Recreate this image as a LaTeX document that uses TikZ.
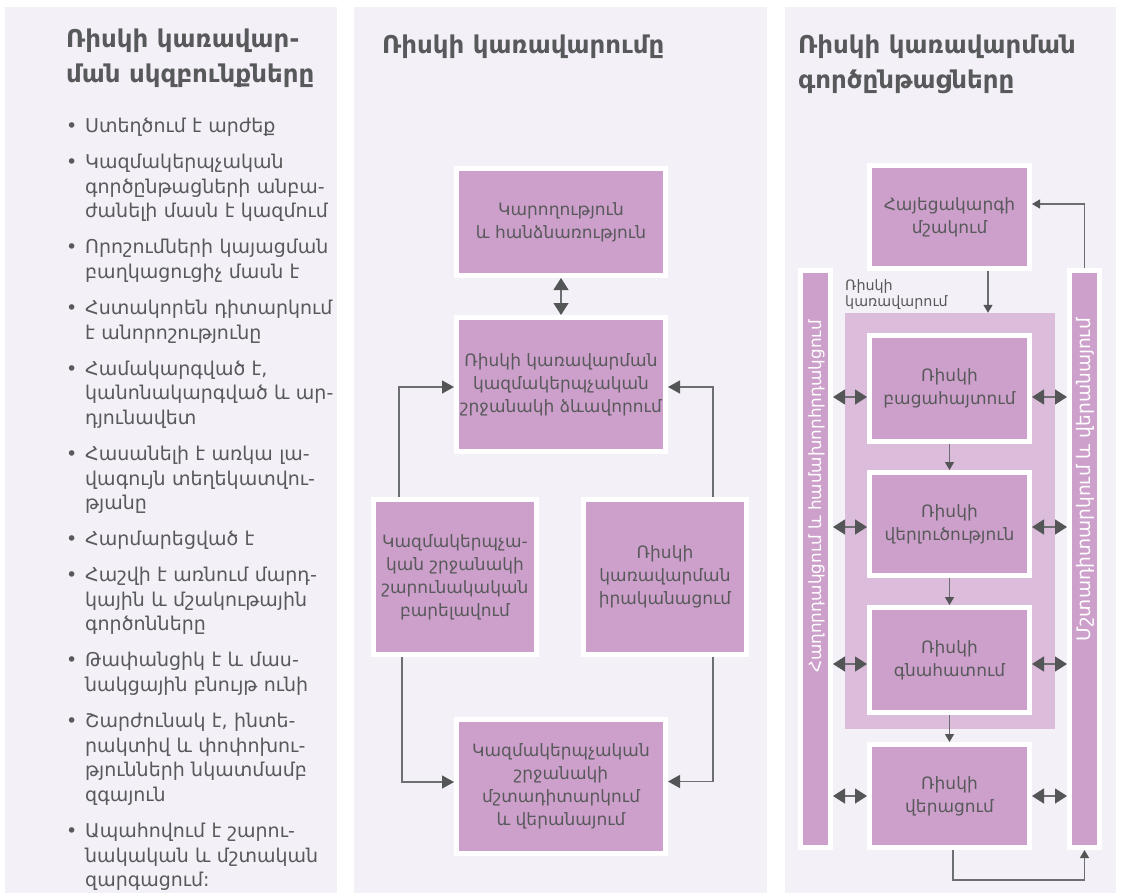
\documentclass[tikz,border=0pt]{standalone}
\usepackage{fontspec}
\setmainfont{DejaVu Sans}
\usetikzlibrary{arrows.meta}
\definecolor{panelc}{HTML}{F3F0F7}
\definecolor{boxc}{HTML}{CDA0CB}
\definecolor{regc}{HTML}{DBBCDB}
\definecolor{txtc}{HTML}{58595B}
\definecolor{linec}{HTML}{6D6E71}
\definecolor{arrc}{HTML}{545557}
\newcommand\bitem{\par\hangindent=19pt\hangafter=1\noindent\makebox[19pt][l]{•}}
\begin{document}
\begin{tikzpicture}[x=1pt,y=-1pt,
  pbox/.style={fill=boxc, draw=white, line width=5pt, inner sep=0pt, text=txtc, align=center, font=\fontsize{17}{23}\selectfont},
  bar/.style={fill=boxc, draw=white, line width=5pt, inner sep=0pt},
  conn/.style={draw=linec, line width=1.3pt},
  arr/.style={conn, -{Triangle[length=12pt,width=13pt,color=arrc]}},
  sarr/.style={conn, -{Triangle[length=8pt,width=9pt,color=arrc]}},
  dbl/.style={conn, {Triangle[length=12pt,width=15pt,color=arrc]}-{Triangle[length=12pt,width=15pt,color=arrc]}},
  title/.style={font=\fontsize{24.5}{34.5}\selectfont\bfseries, text=txtc, align=left, inner sep=0pt},
  bartext/.style={rotate=90, text=white, inner sep=0pt}
]
\useasboundingbox (0,0) rectangle (1121,894);
% panels
\fill[panelc] (5,7) rectangle (337,893);
\fill[panelc] (354,7) rectangle (767,893);
\fill[panelc] (785,7) rectangle (1116,893);

% ---- left panel
\node[title, anchor=north west] (t1) at (66,29) {Ռիսկի կառավար-\\ման սկզբունքները};
\node[anchor=north west, text width=268pt, inner sep=0pt, text=txtc, align=left,
      font=\fontsize{19}{24.7}\selectfont] (lst) at (66,96.5) {%
\setlength\parskip{11.2pt}%
\bitem Ստեղծում է արժեք
\bitem Կազմակերպչական\newline գործընթացների անբա-\newline ժանելի մասն է կազմում
\bitem Որոշումների կայացման\newline բաղկացուցիչ մասն է
\bitem Հստակորեն դիտարկում\newline է անորոշությունը
\bitem Համակարգված է,\newline կանոնակարգված և ար-\newline դյունավետ
\bitem Հասանելի է առկա լա-\newline վագույն տեղեկատվու-\newline թյանը
\bitem Հարմարեցված է
\bitem Հաշվի է առնում մարդ-\newline կային և մշակութային\newline գործոնները
\bitem Թափանցիկ է և մաս-\newline նակցային բնույթ ունի
\bitem Շարժունակ է, ինտե-\newline րակտիվ և փոփոխու-\newline թյունների նկատմամբ\newline զգայուն
\bitem Ապահովում է շարու-\newline նակական և մշտական\newline զարգացում:\par};

% ---- middle panel
\node[title, anchor=north west] (t2) at (382,35) {Ռիսկի կառավարումը};
\node[pbox, minimum width=209pt, minimum height=107pt] (b1) at (561,222) {Կարողություն\\և հանձնառություն};
\node[pbox, minimum width=209pt, minimum height=134pt] (b2) at (561,384.5) {Ռիսկի կառավարման\\կազմակերպչական\\շրջանակի ձևավորում};
\node[pbox, minimum width=163pt, minimum height=155pt] (b3) at (455,577) {Կազմակերպչա-\\կան շրջանակի\\շարունակական\\բարելավում};
\node[pbox, minimum width=163pt, minimum height=155pt] (b4) at (665,577) {Ռիսկի\\կառավարման\\իրականացում};
\node[pbox, minimum width=209pt, minimum height=134pt] (b5) at (561,786.5) {Կազմակերպչական\\շրջանակի\\մշտադիտարկում\\և վերանայում};

\draw[dbl] (b1.south) -- (b2.north);
\draw[arr] ([xshift=-56pt]b3.north) |- ([yshift=-2.5pt]b2.west);
\draw[arr] ([xshift=48pt]b4.north) |- ([yshift=-2.5pt]b2.east);
\draw[arr] ([xshift=-53pt]b3.south) |- ([yshift=4.5pt]b5.west);
\draw[arr] ([xshift=48pt]b4.south) |- ([yshift=5pt]b5.east);

% ---- right panel
\node[title, anchor=north west] (t3) at (798,35) {Ռիսկի կառավարման\\գործընթացները};
\node[fill=regc, minimum width=210pt, minimum height=416pt, inner sep=0pt] (reg) at (950,521) {};
\node[anchor=south west, inner sep=0pt, align=left, text=txtc, font=\fontsize{14.3}{16.5}\selectfont] (regl) at (845,310) {Ռիսկի\\կառավարում};
\node[pbox, minimum width=160pt, minimum height=103pt] (h) at (949.5,217) {Հայեցակարգի\\մշակում};
\node[pbox, minimum width=160pt, minimum height=106pt] (p1) at (949.5,388.5) {Ռիսկի\\բացահայտում};
\node[pbox, minimum width=160pt, minimum height=103pt] (p2) at (949.5,524) {Ռիսկի\\վերլուծություն};
\node[pbox, minimum width=160pt, minimum height=105pt] (p3) at (949.5,660) {Ռիսկի\\գնահատում};
\node[pbox, minimum width=160pt, minimum height=103pt] (p4) at (949.5,796) {Ռիսկի\\վերացում};
\node[bar, minimum width=30pt, minimum height=577pt] (lb) at (815.5,559) {};
\node[bar, minimum width=30pt, minimum height=577pt] (rb) at (1084.5,559) {};
\node[bartext, anchor=east, font=\fontsize{16.8}{20}\selectfont] (lbt) at (816.5,320) {Հաղորդակցում և համախորհրդակցում};
\node[bartext, anchor=east, font=\fontsize{18.6}{20}\selectfont] (rbt) at (1085.5,318) {Մշտադիտարկում և վերանայում};

\draw[sarr] ([xshift=38.5pt]h.south) -- ([xshift=38.5pt]h.south |- reg.north);
\draw[sarr] (p1.south) -- (p2.north);
\draw[sarr] (p2.south) -- (p3.north);
\draw[sarr] (p3.south) -- (p4.north);
\coordinate (y1) at ([yshift=-8.5pt]p1.west);
\coordinate (y2) at ([yshift=-3pt]p2.west);
\coordinate (y3) at ([yshift=-4pt]p3.west);
\coordinate (y4) at (p4.west);
\foreach \c in {y1,y2,y3,y4}{
  \draw[dbl] (\c -| lb.east) -- (\c -| p1.west);
  \draw[dbl] (\c -| p1.east) -- (\c -| rb.west);
}
\draw[sarr] ([xshift=3.5pt]p4.south) -- ++(0,30) -| (rb.south);
\draw[sarr] (rb.north) |- ([yshift=13pt]h.east);
\end{tikzpicture}
\end{document}
